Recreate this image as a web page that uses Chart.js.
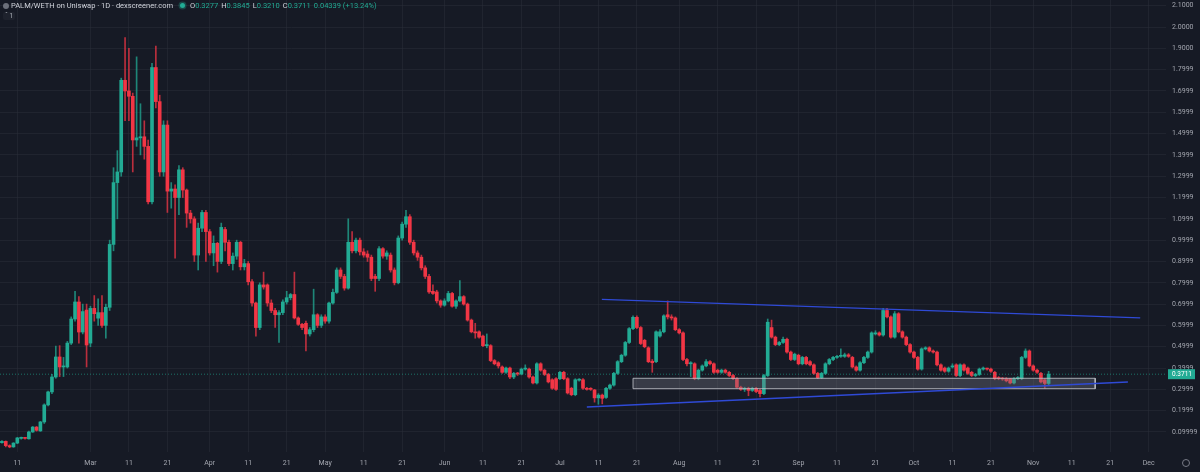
<!DOCTYPE html>
<html>
<head>
<meta charset="utf-8">
<script src="https://cdn.jsdelivr.net/npm/chart.js@4.4.1/dist/chart.umd.min.js"></script>
<style>
  html, body { margin: 0; padding: 0; background: #161a25; }
  #wrap { position: relative; width: 1200px; height: 472px; overflow: hidden; }
  #hdr { position: absolute; left: 3px; top: 1px; font: 7.5px Roboto, sans-serif; color: #d1d4dc; white-space: nowrap; }
  #hdr .logo { display: inline-block; width: 6px; height: 6px; border-radius: 50%; background: #6b6f7a; vertical-align: -1px; margin-right: 2px; }
  #hdr .dot { display: inline-block; width: 5px; height: 5px; border-radius: 50%; background: #22ab94; box-shadow: 0 0 0 1.5px rgba(34,171,148,0.3); margin: 0 5px 0 7px; vertical-align: 0; }
  #hdr .v { color: #22ab94; margin-right: 3px; }
  #sub { position: absolute; left: 3px; top: 12px; font: 6.5px Roboto, sans-serif; color: #b2b5be; background: #1e222d; padding: 0 2px; border-radius: 2px; }
  #gear { position: absolute; left: 1182px; top: 459px; width: 6px; height: 6px; border: 1px solid #787b86; border-radius: 50%; }
</style>
</head>
<body>
<div id="wrap">
  <canvas id="myChart" width="1200" height="472"></canvas>
  <div id="hdr"><span class="logo"></span>PALM/WETH on Uniswap · 1D · dexscreener.com<span class="dot"></span>O<span class="v">0.3277</span>H<span class="v">0.3845</span>L<span class="v">0.3210</span>C<span class="v">0.3711</span><span class="v">0.04339 (+13.24%)</span></div>
  <div id="sub">&#711; 1</div>
  <div id="gear"></div>
</div>
<script>
// one candle per day, day 0 = 7 Feb 2024
const opens = [
  0.050, 0.056, 0.036, 0.030, 0.048, 0.070, 0.072, 0.068, 0.100, 0.123,
  0.105, 0.147, 0.227, 0.288, 0.358, 0.452, 0.405, 0.405, 0.517, 0.630,
  0.710, 0.569, 0.672, 0.517, 0.680, 0.634, 0.660, 0.600, 0.685, 0.980,
  1.270, 1.320, 1.750, 1.700, 1.675, 1.470, 1.480, 1.485, 1.440, 1.180,
  1.810, 1.650, 1.320, 1.540, 1.230, 1.240, 1.200, 1.330, 1.235, 1.127,
  1.100, 0.930, 1.056, 1.130, 1.040, 0.940, 0.985, 0.900, 1.050, 0.990,
  0.890, 0.925, 0.990, 0.875, 0.890, 0.805, 0.705, 0.590, 0.790, 0.790,
  0.705, 0.670, 0.650, 0.660, 0.710, 0.730, 0.745, 0.635, 0.605, 0.610,
  0.560, 0.580, 0.650, 0.600, 0.640, 0.620, 0.705, 0.755, 0.860, 0.830,
  0.775, 0.990, 0.950, 1.000, 0.945, 0.935, 0.920, 0.830, 0.820, 0.960,
  0.925, 0.930, 0.860, 0.800, 1.010, 1.075, 1.110, 0.990, 0.940, 0.920,
  0.870, 0.830, 0.760, 0.757, 0.715, 0.695, 0.715, 0.750, 0.690, 0.715,
  0.735, 0.700, 0.625, 0.570, 0.570, 0.550, 0.505, 0.505, 0.435, 0.425,
  0.405, 0.380, 0.400, 0.358, 0.375, 0.372, 0.395, 0.395, 0.358, 0.330,
  0.420, 0.390, 0.370, 0.345, 0.350, 0.350, 0.380, 0.350, 0.305, 0.275,
  0.343, 0.345, 0.305, 0.305, 0.297, 0.260, 0.273, 0.262, 0.305, 0.320,
  0.375, 0.430, 0.460, 0.520, 0.585, 0.638, 0.590, 0.530, 0.495, 0.432,
  0.430, 0.550, 0.570, 0.650, 0.640, 0.635, 0.580, 0.565, 0.440, 0.420,
  0.420, 0.350, 0.390, 0.410, 0.430, 0.420, 0.390, 0.380, 0.390, 0.380,
  0.365, 0.350, 0.310, 0.300, 0.305, 0.295, 0.305, 0.295, 0.280, 0.365,
  0.590, 0.545, 0.510, 0.520, 0.535, 0.475, 0.440, 0.460, 0.420, 0.450,
  0.430, 0.415, 0.375, 0.355, 0.375, 0.420, 0.440, 0.450, 0.455, 0.455,
  0.462, 0.450, 0.405, 0.390, 0.425, 0.450, 0.475, 0.560, 0.565, 0.555,
  0.670, 0.640, 0.545, 0.655, 0.570, 0.545, 0.510, 0.475, 0.450, 0.395,
  0.490, 0.495, 0.480, 0.475, 0.415, 0.400, 0.385, 0.405, 0.415, 0.365,
  0.415, 0.400, 0.380, 0.365, 0.370, 0.395, 0.398, 0.395, 0.380, 0.355,
  0.352, 0.350, 0.350, 0.330, 0.350, 0.350, 0.450, 0.480, 0.410, 0.390,
  0.375, 0.345, 0.3277
];
const highs = [
  0.060, 0.058, 0.040, 0.050, 0.075, 0.076, 0.074, 0.104, 0.126, 0.126,
  0.150, 0.232, 0.292, 0.370, 0.503, 0.505, 0.450, 0.525, 0.640, 0.760,
  0.735, 0.700, 0.700, 0.690, 0.740, 0.725, 0.740, 0.700, 1.000, 1.340,
  1.420, 1.760, 1.950, 1.900, 1.690, 1.860, 1.640, 1.560, 1.470, 1.830,
  1.910, 1.680, 1.560, 1.560, 1.270, 1.260, 1.350, 1.340, 1.240, 1.140,
  1.110, 1.080, 1.140, 1.140, 1.050, 1.020, 0.990, 1.080, 1.060, 1.000,
  0.940, 1.000, 0.995, 0.910, 0.900, 0.815, 0.710, 0.800, 0.850, 0.795,
  0.720, 0.680, 0.670, 0.720, 0.760, 0.750, 0.850, 0.640, 0.610, 0.620,
  0.590, 0.770, 0.655, 0.650, 0.650, 0.710, 0.770, 0.870, 0.870, 0.840,
  1.100, 1.040, 1.010, 1.010, 0.960, 0.950, 0.930, 0.840, 0.970, 0.965,
  0.950, 0.940, 0.870, 1.020, 1.085, 1.140, 1.120, 1.000, 0.950, 0.930,
  0.880, 0.840, 0.790, 0.765, 0.720, 0.725, 0.760, 0.755, 0.720, 0.810,
  0.740, 0.705, 0.630, 0.610, 0.575, 0.555, 0.560, 0.510, 0.440, 0.430,
  0.410, 0.405, 0.405, 0.380, 0.380, 0.400, 0.415, 0.400, 0.362, 0.425,
  0.425, 0.395, 0.375, 0.350, 0.355, 0.385, 0.385, 0.355, 0.310, 0.350,
  0.350, 0.350, 0.310, 0.308, 0.300, 0.280, 0.278, 0.310, 0.325, 0.380,
  0.435, 0.465, 0.525, 0.590, 0.645, 0.645, 0.595, 0.535, 0.500, 0.440,
  0.575, 0.580, 0.650, 0.715, 0.650, 0.640, 0.585, 0.570, 0.445, 0.430,
  0.425, 0.395, 0.415, 0.440, 0.435, 0.425, 0.395, 0.395, 0.395, 0.385,
  0.370, 0.355, 0.315, 0.310, 0.310, 0.310, 0.310, 0.300, 0.370, 0.630,
  0.625, 0.550, 0.525, 0.545, 0.540, 0.480, 0.470, 0.465, 0.455, 0.455,
  0.435, 0.420, 0.380, 0.380, 0.425, 0.445, 0.455, 0.460, 0.490, 0.470,
  0.468, 0.455, 0.410, 0.430, 0.455, 0.480, 0.570, 0.575, 0.570, 0.680,
  0.680, 0.645, 0.665, 0.660, 0.575, 0.550, 0.515, 0.480, 0.455, 0.495,
  0.500, 0.500, 0.485, 0.480, 0.420, 0.405, 0.405, 0.420, 0.420, 0.420,
  0.420, 0.405, 0.385, 0.375, 0.400, 0.405, 0.400, 0.400, 0.385, 0.360,
  0.356, 0.355, 0.352, 0.355, 0.360, 0.455, 0.490, 0.485, 0.415, 0.395,
  0.380, 0.350, 0.3845
];
const lows = [
  0.048, 0.030, 0.026, 0.028, 0.045, 0.066, 0.066, 0.066, 0.098, 0.104,
  0.103, 0.140, 0.222, 0.280, 0.352, 0.360, 0.360, 0.400, 0.510, 0.620,
  0.517, 0.560, 0.405, 0.500, 0.620, 0.600, 0.590, 0.540, 0.670, 0.950,
  1.100, 1.300, 1.560, 1.560, 1.320, 1.440, 1.400, 1.380, 1.170, 1.170,
  1.620, 1.300, 1.300, 1.130, 1.150, 0.915, 1.120, 1.200, 1.060, 1.080,
  0.900, 0.860, 1.040, 0.900, 0.930, 0.880, 0.850, 0.890, 0.950, 0.880,
  0.860, 0.910, 0.860, 0.860, 0.790, 0.690, 0.550, 0.580, 0.770, 0.690,
  0.660, 0.590, 0.520, 0.650, 0.700, 0.720, 0.630, 0.600, 0.580, 0.480,
  0.550, 0.570, 0.590, 0.590, 0.610, 0.610, 0.700, 0.750, 0.820, 0.765,
  0.770, 0.940, 0.940, 0.930, 0.920, 0.900, 0.810, 0.760, 0.810, 0.915,
  0.910, 0.850, 0.790, 0.795, 1.000, 1.060, 0.980, 0.930, 0.905, 0.860,
  0.820, 0.750, 0.745, 0.705, 0.685, 0.690, 0.710, 0.685, 0.680, 0.710,
  0.695, 0.620, 0.565, 0.540, 0.540, 0.500, 0.495, 0.430, 0.415, 0.400,
  0.375, 0.375, 0.350, 0.350, 0.365, 0.368, 0.390, 0.352, 0.325, 0.325,
  0.385, 0.365, 0.330, 0.300, 0.295, 0.345, 0.345, 0.278, 0.270, 0.270,
  0.338, 0.300, 0.296, 0.295, 0.240, 0.230, 0.232, 0.258, 0.300, 0.315,
  0.370, 0.425, 0.455, 0.515, 0.580, 0.585, 0.510, 0.495, 0.425, 0.380,
  0.425, 0.545, 0.565, 0.630, 0.625, 0.575, 0.560, 0.435, 0.410, 0.360,
  0.345, 0.345, 0.385, 0.405, 0.415, 0.375, 0.375, 0.375, 0.375, 0.360,
  0.345, 0.305, 0.295, 0.290, 0.270, 0.290, 0.285, 0.265, 0.275, 0.360,
  0.540, 0.505, 0.505, 0.515, 0.470, 0.435, 0.435, 0.415, 0.415, 0.415,
  0.410, 0.370, 0.350, 0.350, 0.370, 0.415, 0.435, 0.445, 0.450, 0.450,
  0.450, 0.400, 0.385, 0.385, 0.420, 0.445, 0.470, 0.555, 0.550, 0.550,
  0.635, 0.540, 0.540, 0.565, 0.540, 0.505, 0.470, 0.445, 0.390, 0.390,
  0.485, 0.475, 0.470, 0.410, 0.385, 0.380, 0.380, 0.400, 0.360, 0.360,
  0.385, 0.370, 0.360, 0.360, 0.365, 0.390, 0.390, 0.380, 0.345, 0.345,
  0.342, 0.335, 0.325, 0.325, 0.345, 0.345, 0.445, 0.405, 0.385, 0.375,
  0.330, 0.305, 0.3210
];
const closes = [
  0.056, 0.036, 0.030, 0.048, 0.072, 0.072, 0.070, 0.100, 0.123, 0.108,
  0.147, 0.227, 0.288, 0.358, 0.452, 0.405, 0.410, 0.517, 0.630, 0.710,
  0.569, 0.665, 0.508, 0.680, 0.655, 0.660, 0.600, 0.685, 0.980, 1.270,
  1.320, 1.750, 1.700, 1.675, 1.470, 1.480, 1.485, 1.440, 1.180, 1.810,
  1.650, 1.320, 1.540, 1.230, 1.240, 1.200, 1.330, 1.235, 1.127, 1.100,
  0.930, 1.056, 1.130, 1.040, 0.940, 0.985, 0.900, 1.060, 0.990, 0.890,
  0.925, 0.990, 0.875, 0.890, 0.805, 0.705, 0.590, 0.790, 0.780, 0.705,
  0.670, 0.650, 0.660, 0.710, 0.730, 0.745, 0.635, 0.605, 0.590, 0.560,
  0.580, 0.650, 0.600, 0.640, 0.620, 0.705, 0.755, 0.860, 0.830, 0.775,
  0.990, 0.950, 1.000, 0.945, 0.930, 0.920, 0.820, 0.820, 0.960, 0.925,
  0.940, 0.860, 0.800, 1.010, 1.075, 1.110, 0.990, 0.940, 0.920, 0.870,
  0.830, 0.757, 0.750, 0.715, 0.695, 0.715, 0.750, 0.690, 0.715, 0.735,
  0.700, 0.625, 0.570, 0.565, 0.545, 0.505, 0.510, 0.435, 0.420, 0.410,
  0.380, 0.400, 0.358, 0.375, 0.372, 0.395, 0.398, 0.358, 0.330, 0.420,
  0.390, 0.370, 0.335, 0.305, 0.300, 0.380, 0.350, 0.283, 0.275, 0.345,
  0.346, 0.305, 0.300, 0.300, 0.260, 0.273, 0.258, 0.305, 0.320, 0.375,
  0.430, 0.460, 0.520, 0.585, 0.638, 0.590, 0.515, 0.500, 0.430, 0.425,
  0.570, 0.570, 0.645, 0.640, 0.635, 0.580, 0.565, 0.440, 0.420, 0.425,
  0.350, 0.390, 0.410, 0.430, 0.420, 0.380, 0.380, 0.390, 0.380, 0.365,
  0.350, 0.310, 0.300, 0.305, 0.295, 0.305, 0.290, 0.280, 0.365, 0.615,
  0.545, 0.510, 0.520, 0.535, 0.475, 0.440, 0.465, 0.420, 0.450, 0.420,
  0.415, 0.375, 0.355, 0.375, 0.420, 0.440, 0.450, 0.455, 0.458, 0.462,
  0.455, 0.405, 0.390, 0.425, 0.450, 0.475, 0.565, 0.565, 0.555, 0.670,
  0.640, 0.545, 0.655, 0.570, 0.545, 0.510, 0.475, 0.450, 0.395, 0.490,
  0.495, 0.480, 0.475, 0.415, 0.390, 0.385, 0.400, 0.410, 0.365, 0.415,
  0.390, 0.375, 0.365, 0.368, 0.395, 0.400, 0.395, 0.385, 0.350, 0.350,
  0.348, 0.340, 0.330, 0.350, 0.355, 0.450, 0.480, 0.410, 0.390, 0.380,
  0.335, 0.3277, 0.3711
];

// time axis: day index of each label
const xTickDays = [4, 23, 33, 43, 54, 64, 74, 84, 94, 104, 115, 125, 135, 145, 155,
  165, 176, 186, 196, 207, 217, 227, 237, 247, 257, 268, 278, 288, 298];
const xTickLabels = ['11', 'Mar', '11', '21', 'Apr', '11', '21', 'May', '11', '21', 'Jun', '11', '21', 'Jul', '11',
  '21', 'Aug', '11', '21', 'Sep', '11', '21', 'Oct', '11', '21', 'Nov', '11', '21', 'Dec'];

// price axis
const yTickValues = [0.1, 0.2, 0.3, 0.4, 0.5, 0.6, 0.7, 0.8, 0.9, 1.0, 1.1,
  1.2, 1.3, 1.4, 1.5, 1.6, 1.7, 1.8, 1.9, 2.0, 2.1];
const yTickLabels = ['0.09999', '0.1999', '0.2999', '0.3999', '0.4999', '0.5999', '0.6999', '0.7999', '0.8999', '0.9999', '1.0999',
  '1.1999', '1.2999', '1.3999', '1.4999', '1.5999', '1.6999', '1.7999', '1.9000', '2.0000', '2.1000'];

// drawings on the chart (day index, price)
const upperTrendDays = [155.9, 295.8];
const upperTrendValues = [0.7225, 0.6357];
const lowerTrendDays = [152.0, 292.6];
const lowerTrendValues = [0.2173, 0.3345];
const zoneDays = [164.0, 284.1];
const zoneValues = [0.303, 0.352];

const upColor = '#22ab94';
const downColor = '#f23645';
const gridColor = 'rgba(42, 46, 57, 0.55)';
const labelColor = '#a3a6af';
const lastClose = closes[closes.length - 1];

const isUp = closes.map((c, i) => c >= opens[i]);
const bodyColors = isUp.map(u => u ? upColor : downColor);
const wickColors = isUp.map(u => u ? 'rgba(34,171,148,0.75)' : 'rgba(242,54,69,0.75)');

// price tag on the right scale
const priceTag = {
  id: 'priceTag',
  afterDraw(chart) {
    const ctx = chart.ctx;
    const area = chart.chartArea;
    const py = chart.scales.y.getPixelForValue(lastClose);
    ctx.save();
    ctx.fillStyle = upColor;
    ctx.fillRect(area.right + 2, py - 5, 27, 10);
    ctx.fillStyle = '#ffffff';
    ctx.font = '6.5px Roboto';
    ctx.textBaseline = 'middle';
    ctx.fillText(lastClose.toFixed(4), area.right + 6, py + 0.5);
    ctx.restore();
  }
};

const ctx = document.getElementById('myChart').getContext('2d');

const myChart = new Chart(ctx, {
  type: 'bar',
  data: {
    datasets: [
      {
        type: 'line',
        data: upperTrendDays.map((d, i) => ({ x: d, y: upperTrendValues[i] })),
        borderColor: '#2f4ad6',
        borderWidth: 1.3,
        pointRadius: 0,
        fill: false,
        order: 1
      },
      {
        type: 'line',
        data: lowerTrendDays.map((d, i) => ({ x: d, y: lowerTrendValues[i] })),
        borderColor: '#2f4ad6',
        borderWidth: 1.3,
        pointRadius: 0,
        fill: false,
        order: 1
      },
      {
        // outline of the grey zone
        type: 'line',
        data: [
          { x: zoneDays[0], y: zoneValues[1] }, { x: zoneDays[1], y: zoneValues[1] },
          { x: zoneDays[1], y: zoneValues[0] }, { x: zoneDays[0], y: zoneValues[0] },
          { x: zoneDays[0], y: zoneValues[1] }
        ],
        borderColor: 'rgba(190, 193, 200, 0.85)',
        borderWidth: 1,
        pointRadius: 0,
        fill: false,
        order: 2
      },
      {
        // fill of the grey zone
        type: 'line',
        data: zoneDays.map(d => ({ x: d, y: zoneValues[1] })),
        borderWidth: 0,
        pointRadius: 0,
        backgroundColor: 'rgba(120, 123, 134, 0.35)',
        fill: { value: zoneValues[0] },
        order: 3
      },
      {
        // last price line
        type: 'line',
        data: [{ x: -0.5, y: lastClose }, { x: 302.5, y: lastClose }],
        borderColor: 'rgba(34, 171, 148, 0.6)',
        borderWidth: 1,
        borderDash: [1, 2],
        pointRadius: 0,
        fill: false,
        order: 4
      },
      {
        // candle bodies
        data: opens.map((o, i) => ({ x: i, y: [o, closes[i]] })),
        backgroundColor: bodyColors,
        barThickness: 3,
        minBarLength: 1,
        grouped: false,
        order: 5
      },
      {
        // candle wicks
        data: lows.map((l, i) => ({ x: i, y: [l, highs[i]] })),
        backgroundColor: wickColors,
        barThickness: 1,
        grouped: false,
        order: 6
      }
    ]
  },
  options: {
    responsive: false,
    animation: false,
    events: [],
    layout: { padding: 0 },
    plugins: {
      legend: { display: false },
      tooltip: { enabled: false }
    },
    scales: {
      x: {
        type: 'linear',
        min: -0.5,
        max: 302.5,
        offset: false,
        border: { display: false },
        grid: { offset: false, color: gridColor, drawTicks: false },
        afterBuildTicks: s => { s.ticks = xTickDays.map(v => ({ value: v })); },
        afterFit: s => { s.height = 20; s.paddingLeft = 0; s.paddingRight = 0; },
        ticks: {
          autoSkip: false,
          maxRotation: 0,
          padding: 7,
          color: labelColor,
          font: { family: 'Roboto', size: 7 },
          callback: (v, i) => xTickLabels[i]
        }
      },
      y: {
        type: 'linear',
        position: 'right',
        min: 0.0061,
        max: 2.1267,
        border: { display: false },
        grid: { color: gridColor, drawTicks: false },
        afterBuildTicks: s => { s.ticks = yTickValues.map(v => ({ value: v })); },
        afterFit: s => { s.width = 34; s.paddingTop = 0; s.paddingBottom = 0; },
        ticks: {
          padding: 6,
          color: labelColor,
          font: { family: 'Roboto', size: 7 },
          callback: (v, i) => yTickLabels[i]
        }
      }
    }
  },
  plugins: [priceTag]
});
</script>
</body>
</html>
